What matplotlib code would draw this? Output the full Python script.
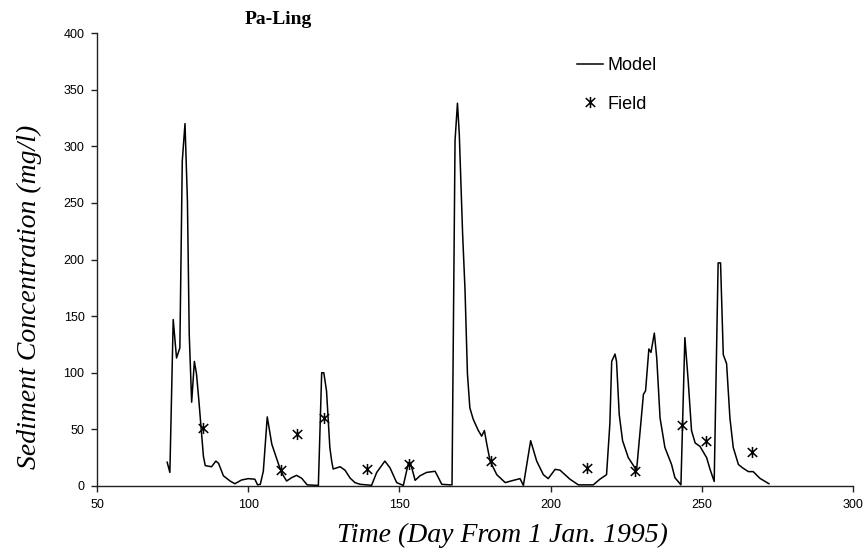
import numpy as np
import matplotlib
matplotlib.use('Agg')
import matplotlib.pyplot as plt
from matplotlib.path import Path

# model series (day, mg/l)
model_day = [73.2, 74.1, 75.2, 76.3, 77.4, 78.2, 79.1, 79.9, 80.5, 81.3,
             82.2, 82.9, 83.7, 84.6, 85.2, 85.8, 87.9, 89.3, 90.2, 91.8,
             94.0, 95.6, 97.8, 100.0, 102.2, 103.1, 104.0, 105.0, 106.3, 107.8,
             110.0, 111.0, 112.7, 114.4, 116.0, 117.7, 119.5, 123.2, 124.3, 125.0,
             125.9, 127.0, 127.6, 128.1, 130.4, 132.0, 133.7, 135.3, 137.0, 140.8,
             142.5, 145.2, 146.9, 149.1, 151.3, 153.0, 153.7, 155.2, 156.8, 159.0,
             161.8, 162.9, 164.0, 166.7, 167.4, 168.4, 169.2, 169.8, 170.9, 171.7,
             172.5, 173.3, 174.4, 176.1, 177.2, 178.1, 178.9, 180.0, 182.2, 185.0,
             187.7, 189.9, 191.0, 193.4, 195.4, 197.6, 199.2, 201.5, 203.1, 206.4,
             209.2, 214.1, 216.3, 218.5, 219.6, 220.2, 221.3, 221.8, 222.7, 223.8,
             225.7, 227.9, 228.4, 229.6, 230.7, 231.4, 232.5, 233.2, 234.3, 235.1,
             236.2, 237.8, 240.0, 241.1, 243.1, 244.4, 245.5, 246.6, 247.8, 249.4,
             251.6, 252.7, 254.1, 255.4, 256.2, 257.1, 258.2, 259.3, 260.4, 262.1,
             263.5, 265.4, 267.0, 269.2, 272.2]
model_val = [21, 12, 147, 113, 122, 287, 320, 252, 134, 74,
             110, 99, 75, 46, 26, 18, 17, 22, 20, 9,
             4.4, 2, 5.3, 6.5, 6, 1, 1.5, 13, 61, 37,
             19.5, 12, 4.4, 7.4, 9.4, 6.8, 1, 0.5, 100, 100,
             84, 34, 22, 15, 17, 14, 7, 3, 1.5, 0.6,
             12, 22, 16, 3, 0.5, 20.6, 20, 5, 9, 12,
             13, 7.4, 1.5, 1, 1, 305, 338, 311, 223, 173,
             99, 69, 59, 49, 44, 49, 37, 22, 10, 3,
             5, 6.5, 0.5, 40, 22, 10, 6.5, 14.7, 14, 6,
             1, 1, 6, 10, 55, 110, 116.5, 110, 63, 40,
             25, 16, 13, 49, 81, 84, 121, 118, 135, 113,
             60, 34, 19, 7.4, 1, 131, 93, 49, 38, 35,
             25, 15, 4, 197, 197, 116, 108, 60, 34, 19,
             16, 12.7, 12.7, 6.8, 2]

# field measurements
field_day = [85.2, 111.0, 116.2, 125.2, 139.2, 153.2, 180.2, 212.1, 228.0, 243.3, 251.4, 266.5]
field_val = [51.6, 14, 45.7, 60, 14.7, 19, 22, 15.7, 13.5, 53.7, 39.8, 30.4]

x_ticks = [50, 100, 150, 200, 250, 300]
y_ticks = [0, 50, 100, 150, 200, 250, 300, 350, 400]

# asterisk marker: vertical bar plus an x
star = Path([(0, -1), (0, 1), (-0.85, -0.8), (0.85, 0.8), (-0.85, 0.8), (0.85, -0.8)],
            [Path.MOVETO, Path.LINETO, Path.MOVETO, Path.LINETO, Path.MOVETO, Path.LINETO])

fig = plt.figure(figsize=(8.67, 5.54), dpi=100)
fig.patch.set_facecolor('white')
ax = fig.add_axes([97 / 867, 68 / 554, 756 / 867, 453 / 554])

ax.plot(model_day, model_val, color='black', linewidth=1.1, label='Model')
ax.plot(field_day, field_val, linestyle='none', marker=star, markersize=8,
        markerfacecolor='none', markeredgecolor='black', markeredgewidth=1.1, label='Field')

ax.set_xlim(50, 300)
ax.set_ylim(0, 400)
ax.set_xticks(x_ticks)
ax.set_yticks(y_ticks)
for s in ['top', 'right']:
    ax.spines[s].set_visible(False)
for s in ['left', 'bottom']:
    ax.spines[s].set_linewidth(1.0)
    ax.spines[s].set_color('#222222')
ax.tick_params(direction='out', length=4, width=1.0, colors='#222222', pad=5)
for lab in ax.get_xticklabels() + ax.get_yticklabels():
    lab.set_fontfamily('Liberation Sans')
    lab.set_fontsize(9)
    lab.set_color('black')

fig.text(278 / 867, 1 - 20 / 554, 'Pa-Ling', ha='center', va='center',
         family='Liberation Serif', fontweight='bold', fontsize=14)
fig.text(502 / 867, 1 - 535 / 554, 'Time (Day From 1 Jan. 1995)', ha='center', va='center',
         family='Liberation Serif', style='italic', fontsize=20)
fig.text(29 / 867, 1 - 297 / 554, 'Sediment Concentration (mg/l)', ha='center', va='center',
         rotation=90, family='Liberation Serif', style='italic', fontsize=20)

ax.legend(loc='upper left', bbox_to_anchor=(577 / 867, 1 - 57 / 554),
          bbox_transform=fig.transFigure, frameon=False, borderpad=0, borderaxespad=0,
          handlelength=1.45, handletextpad=0.25, labelspacing=1.2,
          prop={'family': 'Liberation Sans', 'size': 13})

fig.savefig('out.png', dpi=100)
